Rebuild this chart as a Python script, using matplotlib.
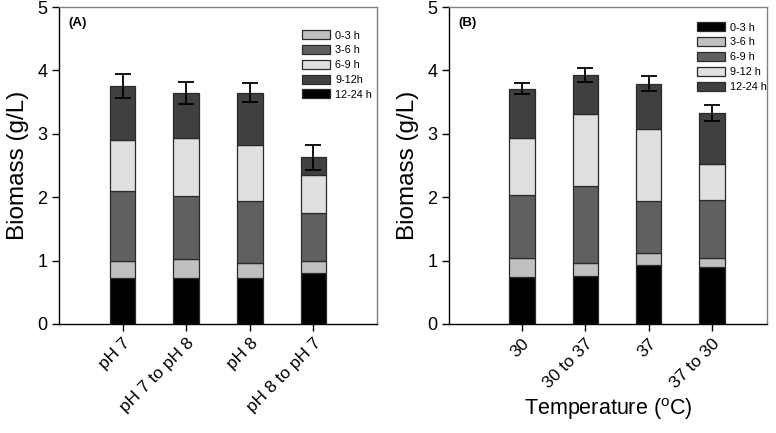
import matplotlib
matplotlib.use("Agg")
import matplotlib.pyplot as plt
import numpy as np
from matplotlib.patches import Patch

plt.rcParams['font.family'] = ['Liberation Sans', 'DejaVu Sans']

# ---- Panel A data (segment heights, stacked bottom -> top) ----
cats_a = ["pH 7", "pH 7 to pH 8", "pH 8", "pH 8 to pH 7"]
a_12_24 = [0.73, 0.73, 0.72, 0.80]   # black (bottom)
a_0_3   = [0.27, 0.29, 0.25, 0.20]   # light gray
a_3_6   = [1.09, 1.00, 0.97, 0.75]   # gray
a_6_9   = [0.82, 0.91, 0.88, 0.60]   # very light gray
a_9_12  = [0.84, 0.71, 0.83, 0.28]   # dark gray (top)
a_err   = [0.19, 0.17, 0.155, 0.20]

# ---- Panel B data ----
cats_b = ["30", "30 to 37", "37", "37 to 30"]
b_0_3   = [0.74, 0.75, 0.93, 0.90]
b_3_6   = [0.30, 0.22, 0.19, 0.14]
b_6_9   = [0.99, 1.21, 0.82, 0.92]
b_9_12  = [0.91, 1.14, 1.13, 0.57]
b_12_24 = [0.77, 0.61, 0.72, 0.80]
b_err   = [0.09, 0.11, 0.12, 0.13]

C_BLACK = "#000000"
C_LG = "#c0c0c0"
C_G = "#606060"
C_VL = "#e0e0e0"
C_D = "#404040"
EDGE = "#2a2a2a"

fig = plt.figure(figsize=(7.76, 4.33), dpi=100)
axA = fig.add_axes([59/776, 1-324/433, 318/776, 317/433])
axB = fig.add_axes([449/776, 1-324/433, 318/776, 317/433])

def draw(ax, cats, segs, err, xlim):
    x = np.arange(1, len(cats)+1)
    bottom = np.zeros(len(cats))
    for vals, col in segs:
        ax.bar(x, vals, 0.4, bottom=bottom, color=col, edgecolor=EDGE, linewidth=0.9, zorder=2)
        bottom = bottom + np.array(vals)
    ax.errorbar(x, bottom, yerr=err, fmt='none', ecolor='black', elinewidth=1.3,
                capsize=5.6, capthick=1.3, zorder=3)
    ax.set_xlim(*xlim)
    ax.set_ylim(0, 5)
    ax.set_yticks([0, 1, 2, 3, 4, 5])
    ax.set_xticks(x)
    ax.set_xticklabels(cats, rotation=45, ha='right', rotation_mode='anchor', fontsize=12.5)
    ax.tick_params(axis='y', labelsize=13, direction='out', length=5, width=1)
    ax.tick_params(axis='x', direction='out', length=5, width=1)
    ax.set_ylabel("Biomass (g/L)", fontsize=17.5, labelpad=6)
    for s in ['top', 'right']:
        ax.spines[s].set_color('#808080')
    for s in ax.spines.values():
        s.set_linewidth(1)
    ax.spines['left'].set_color('black')
    ax.spines['bottom'].set_color('black')

draw(axA, cats_a, [(a_12_24, C_BLACK), (a_0_3, C_LG), (a_3_6, C_G), (a_6_9, C_VL), (a_9_12, C_D)],
     a_err, (0, 5))
draw(axB, cats_b, [(b_0_3, C_BLACK), (b_3_6, C_LG), (b_6_9, C_G), (b_9_12, C_VL), (b_12_24, C_D)],
     b_err, (-0.15, 4.87))

axA.text(0.03, 0.97, "(A)", transform=axA.transAxes, fontsize=9.5, fontweight='bold', va='top')
axB.text(0.03, 0.97, "(B)", transform=axB.transAxes, fontsize=9.5, fontweight='bold', va='top')

axB.set_xlabel("Temperature ($\\mathregular{^o}$C)", fontsize=15.5, labelpad=4)

def legend(ax, items, anchor):
    handles = [Patch(facecolor=c, edgecolor=EDGE, linewidth=0.9, label=l) for l, c in items]
    ax.legend(handles=handles, loc='upper left', bbox_to_anchor=anchor, frameon=False,
              fontsize=7.8, handlelength=2.6, handleheight=0.9, labelspacing=0.42,
              handletextpad=0.5, borderaxespad=0)

legend(axA, [("0-3 h", C_LG), ("3-6 h", C_G), ("6-9 h", C_VL), ("9-12h", C_D), ("12-24 h", C_BLACK)],
       (0.75, 0.94))
legend(axB, [("0-3 h", C_BLACK), ("3-6 h", C_LG), ("6-9 h", C_G), ("9-12 h", C_VL), ("12-24 h", C_D)],
       (0.765, 0.965))

fig.savefig("out.png", dpi=100)
